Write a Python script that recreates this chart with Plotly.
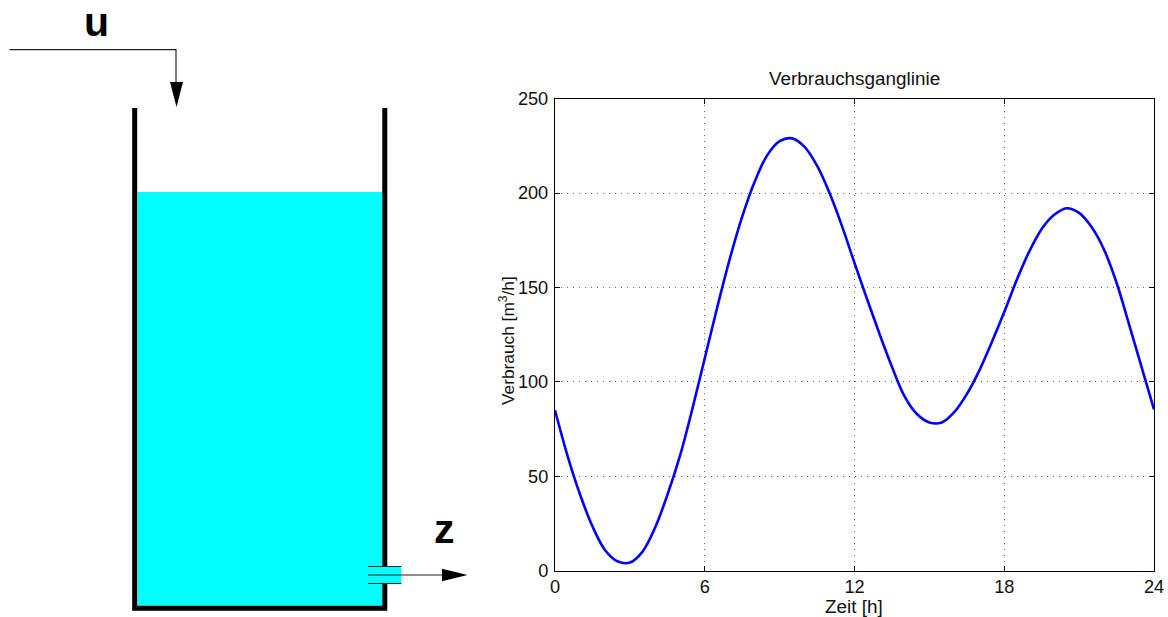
import plotly.graph_objects as go

W, H = 1168, 617

# chart data
title = "Verbrauchsganglinie"
x_label = "Zeit [h]"
y_label = "Verbrauch [m<sup>3</sup>/h]"
x_ticks = [0, 6, 12, 18, 24]
y_ticks = [0, 50, 100, 150, 200, 250]
hours = [0, 0.5, 1, 1.5, 2, 2.5, 3, 3.5, 4, 4.5, 5, 5.5, 6, 6.5, 7, 7.5, 8, 8.5, 9, 9.5,
         10, 10.5, 11, 11.5, 12, 12.5, 13, 13.5, 14, 14.5, 15, 15.5, 16, 16.5, 17, 17.5,
         18, 18.5, 19, 19.5, 20, 20.5, 21, 21.5, 22, 22.5, 23, 23.5, 24]
flow = [85, 61, 40.5, 23.5, 11, 5, 4.3, 10, 22.5, 40, 60.5, 85.5, 112.5, 139.5, 165, 187.5,
        206, 220, 227.5, 229, 224.5, 214.5, 200, 182.5, 163, 144, 125.5, 108, 92.5, 83, 78.5,
        78.5, 84, 93.5, 106, 121, 137, 154, 169, 181, 188.5, 192, 189.5, 182, 170, 152.5,
        130.5, 108, 85.5]

# schematic geometry, in picture units
inflow_line_x = [9.5, 176, 176]
inflow_line_y = [49.7, 49.7, 85]
inflow_head_x = [170, 183, 176.5, 170]
inflow_head_y = [82, 82, 107, 82]
water_x = [137.5, 382.3, 382.3, 137.5, 137.5]
water_y = [192, 192, 605.7, 605.7, 192]
wall_x = [134.7, 134.7, 384.8, 384.8]
wall_y = [108, 608.2, 608.2, 584]
wall_top_x = [384.8, 384.8]
wall_top_y = [108, 566]
pipe_x = [368, 401.3, 401.3, 368, 368]
pipe_y = [566.5, 566.5, 583.5, 583.5, 566.5]
pipe_top_x = [368, 401.3]
pipe_top_y = [566.5, 566.5]
pipe_mid_x = [368, 445]
pipe_mid_y = [575, 575]
pipe_bottom_x = [368, 401.3]
pipe_bottom_y = [583.5, 583.5]
outflow_head_x = [442, 467.5, 442, 442]
outflow_head_y = [568.7, 575, 581.3, 568.7]

FONT = "Liberation Sans"
fig = go.Figure()

fig.add_trace(go.Scatter(x=hours, y=flow, mode="lines", xaxis="x", yaxis="y",
                         line=dict(color="#0000ff", width=2.6, shape="spline", smoothing=1)))


def poly(xs, ys, color):
    fig.add_trace(go.Scatter(x=xs, y=ys, mode="lines", fill="toself", fillcolor=color,
                             line=dict(width=0), xaxis="x2", yaxis="y2"))


def path(xs, ys, width, color="#000000"):
    fig.add_trace(go.Scatter(x=xs, y=ys, mode="lines", xaxis="x2", yaxis="y2",
                             line=dict(color=color, width=width)))


poly(water_x, water_y, "#00ffff")
path(wall_x, wall_y, 5)
path(wall_top_x, wall_top_y, 5)
poly(pipe_x, pipe_y, "#00ffff")
path(pipe_top_x, pipe_top_y, 1.2, "#222222")
path(pipe_mid_x, pipe_mid_y, 1.2, "#222222")
path(pipe_bottom_x, pipe_bottom_y, 1.2, "#222222")
path(inflow_line_x, inflow_line_y, 1.2, "#222222")
poly(inflow_head_x, inflow_head_y, "#000000")
poly(outflow_head_x, outflow_head_y, "#000000")

axis_common = dict(showline=True, linecolor="#000000", linewidth=1.2, mirror="ticks",
                   ticks="inside", ticklen=5, tickcolor="#000000", tickwidth=1,
                   showgrid=True, gridcolor="#666666", gridwidth=1, griddash="1px,5px",
                   zeroline=False, automargin=False,
                   tickfont=dict(family=FONT, size=18.2, color="#111111"))

fig.update_layout(
    width=W, height=H, autosize=False, showlegend=False,
    margin=dict(l=0, r=0, t=0, b=0, pad=0, autoexpand=False),
    paper_bgcolor="#ffffff", plot_bgcolor="rgba(0,0,0,0)",
    font=dict(family=FONT, color="#111111"),
    xaxis=dict(domain=[555 / W, 1154 / W], range=[0, 24], tickmode="array", tickvals=x_ticks,
               anchor="y", ticklabelstandoff=-1, **axis_common),
    yaxis=dict(domain=[(H - 570.7) / H, (H - 98.7) / H], range=[0, 250], tickmode="array",
               tickvals=y_ticks, anchor="x", ticklabelstandoff=2, **axis_common),
    xaxis2=dict(domain=[0, 1], range=[0, W], showgrid=False, zeroline=False, showticklabels=False,
                ticks="", showline=False, anchor="y2"),
    yaxis2=dict(domain=[0, 1], range=[H, 0], showgrid=False, zeroline=False, showticklabels=False,
                ticks="", showline=False, anchor="x2"),
    annotations=[
        dict(text=title, x=854.5, y=78, xref="x2", yref="y2", showarrow=False,
             font=dict(family=FONT, size=18.9, color="#111111")),
        dict(text=x_label, x=854, y=606.5, xref="x2", yref="y2", showarrow=False,
             font=dict(family=FONT, size=18.9, color="#111111")),
        dict(text=y_label, x=507, y=341, xref="x2", yref="y2", showarrow=False, textangle=-90,
             font=dict(family=FONT, size=17.3, color="#111111")),
        dict(text="<b>u</b>", x=96, y=22, xref="x2", yref="y2", showarrow=False,
             font=dict(family=FONT, size=41, color="#000000")),
        dict(text="<b>z</b>", x=444, y=529, xref="x2", yref="y2", showarrow=False,
             font=dict(family=FONT, size=41, color="#000000")),
    ],
)

fig.write_html("out.html", config={"displayModeBar": False},
               post_script="document.body.style.margin='0';")
